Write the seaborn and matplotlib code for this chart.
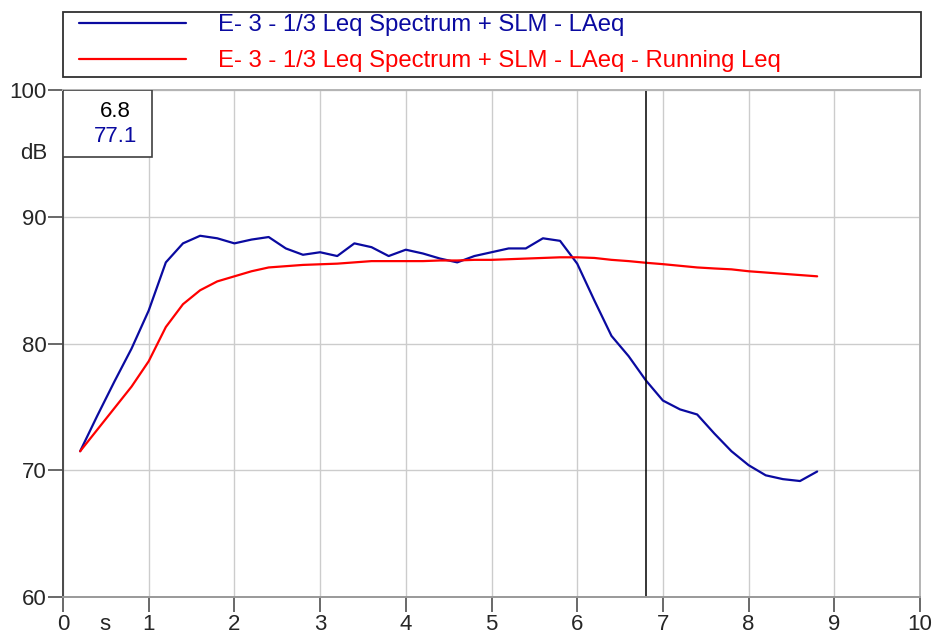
import numpy as np
import pandas as pd
import matplotlib
matplotlib.use("Agg")
import matplotlib.pyplot as plt
from matplotlib.patches import Rectangle
import seaborn as sns

# time axis (s), one value every 0.2 s
time_s = [0.2, 0.4, 0.6, 0.8, 1.0, 1.2, 1.4, 1.6, 1.8, 2.0, 2.2, 2.4, 2.6, 2.8, 3.0,
          3.2, 3.4, 3.6, 3.8, 4.0, 4.2, 4.4, 4.6, 4.8, 5.0, 5.2, 5.4, 5.6, 5.8, 6.0,
          6.2, 6.4, 6.6, 6.8, 7.0, 7.2, 7.4, 7.6, 7.8, 8.0, 8.2, 8.4, 8.6, 8.8]

laeq = [71.5, 74.3, 77.0, 79.6, 82.6, 86.4, 87.9, 88.5, 88.3, 87.9, 88.2, 88.4, 87.5, 87.0, 87.2,
        86.9, 87.9, 87.6, 86.9, 87.4, 87.1, 86.7, 86.4, 86.9, 87.2, 87.5, 87.5, 88.3, 88.1, 86.3,
        83.4, 80.6, 79.0, 77.1, 75.5, 74.8, 74.4, 72.9, 71.5, 70.4, 69.6, 69.3, 69.15, 69.9]

running_leq = [71.5, 73.2, 74.9, 76.6, 78.6, 81.3, 83.1, 84.2, 84.9, 85.3, 85.7, 86.0, 86.1, 86.2, 86.25,
               86.3, 86.4, 86.5, 86.5, 86.5, 86.5, 86.55, 86.55, 86.6, 86.6, 86.65, 86.7, 86.75, 86.8, 86.8,
               86.75, 86.6, 86.5, 86.37, 86.26, 86.13, 86.0, 85.92, 85.85, 85.7, 85.6, 85.5, 85.4, 85.3]

series_names = ["E- 3 - 1/3 Leq Spectrum + SLM - LAeq",
                "E- 3 - 1/3 Leq Spectrum + SLM - LAeq - Running Leq"]
series_colors = ["#0a0aa0", "#ff0000"]

x_ticks = list(range(0, 11))
y_ticks = [60, 70, 80, 90, 100]
cursor_x = 6.8

df = pd.DataFrame({
    "time": time_s * 2,
    "level": laeq + running_leq,
    "series": [series_names[0]] * len(time_s) + [series_names[1]] * len(time_s),
})

sns.set_style("white")
plt.rcParams['font.family'] = ['Liberation Sans', 'DejaVu Sans']
FS = 16
LEG_FS = 17.2

fig = plt.figure(figsize=(9.36, 6.36), dpi=100)
ax = fig.add_axes([63 / 936, 39 / 636, 857 / 936, 507 / 636])

sns.lineplot(data=df, x="time", y="level", hue="series", palette=series_colors,
             hue_order=series_names, ax=ax, linewidth=1.6, legend=False)

ax.set_xlim(0, 10)
ax.set_ylim(60, 100)
ax.set_xticks(x_ticks)
ax.set_yticks(y_ticks)
ax.set_xlabel("")
ax.set_ylabel("")
ax.grid(True, color="#cccccc", linewidth=1.0)
ax.set_axisbelow(True)

ax.tick_params(axis="x", direction="out", length=10.5, width=1.1, color="#404040",
               pad=1.5, labelsize=FS, bottom=True)
ax.tick_params(axis="y", direction="out", length=10.5, width=1.1, color="#404040",
               pad=1.5, labelsize=FS, left=True)

for side, col in [("left", "#4a4a4a"), ("bottom", "#999999"), ("top", "#b4b4b4"), ("right", "#b4b4b4")]:
    ax.spines[side].set_color(col)
    ax.spines[side].set_linewidth(1.4)
    ax.spines[side].set_visible(True)

# unit labels
ax.annotate("s", xy=(0.49, 0), xycoords=("data", "axes fraction"), xytext=(0, -24),
            textcoords="offset points", ha="center", va="baseline", fontsize=FS)
ax.annotate("dB", xy=(0, 95), xycoords=("axes fraction", "data"), xytext=(-11.5, 0),
            textcoords="offset points", ha="right", va="center", fontsize=FS)

# cursor
ax.axvline(cursor_x, color="black", linewidth=1.1)
cursor_val = laeq[time_s.index(cursor_x)]
ax.add_patch(Rectangle((0, 1 - 67 / 507), 89 / 857, 67 / 507, transform=ax.transAxes,
                       facecolor="white", edgecolor="#404040", linewidth=1.2, zorder=5))
ax.text(0.0613, 0.9576, f"{cursor_x:.1f}", transform=ax.transAxes, ha="center", va="center",
        fontsize=FS, color="black", zorder=6)
ax.text(0.0613, 0.9083, f"{cursor_val:.1f}", transform=ax.transAxes, ha="center", va="center",
        fontsize=FS, color=series_colors[0], zorder=6)

# legend box at the top
fig.patches.append(Rectangle((63 / 936, 1 - 76.7 / 636), 857.6 / 936, 65 / 636,
                             transform=fig.transFigure, facecolor="white",
                             edgecolor="#303030", linewidth=1.3))
handles = [plt.Line2D([], [], color=c, linewidth=1.6) for c in series_colors]
fig.legend(handles, series_names, loc="center left", bbox_to_anchor=(79 / 936, 1 - 43 / 636),
           frameon=False, borderpad=0, borderaxespad=0, fontsize=LEG_FS, handlelength=4.48,
           handletextpad=1.34, labelspacing=0.58, labelcolor=series_colors)

fig.savefig("out.png", dpi=100)
